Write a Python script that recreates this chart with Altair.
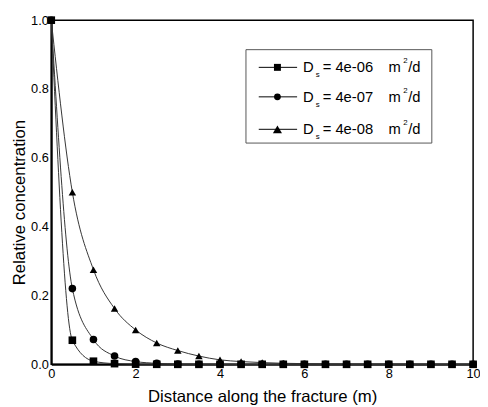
import altair as alt
import pandas as pd

# ---- data ----
x_vals = [0, 0.5, 1, 1.5, 2, 2.5, 3, 3.5, 4, 4.5, 5, 5.5, 6, 6.5, 7, 7.5, 8, 8.5, 9, 9.5, 10]
sq_vals = [1.0, 0.07, 0.009, 0.002, 0.0005, 0.0001, 0, 0, 0, 0, 0, 0, 0, 0, 0, 0, 0, 0, 0, 0, 0]
ci_vals = [1.0, 0.22, 0.072, 0.024, 0.008, 0.003, 0.001, 0.0004, 0.0001, 0, 0, 0, 0, 0, 0, 0, 0, 0, 0, 0, 0]
tr_vals = [1.0, 0.50, 0.275, 0.162, 0.10, 0.062, 0.04, 0.024, 0.013, 0.008, 0.005, 0.003,
           0.002, 0.001, 0.0006, 0.0004, 0.0002, 0.0001, 0, 0, 0]
series_names = ["4e-06", "4e-07", "4e-08"]
series_shapes = ["square", "circle", "triangle-up"]
series_sizes = [60, 58, 95]
x_ticks = [0, 2, 4, 6, 8, 10]
y_ticks = [0.0, 0.2, 0.4, 0.6, 0.8, 1.0]

rows = []
for name, vals in zip(series_names, [sq_vals, ci_vals, tr_vals]):
    for x, y in zip(x_vals, vals):
        rows.append({"x": x, "y": y, "series": name})
df = pd.DataFrame(rows)

FONT = "Liberation Sans"

xenc = alt.X("x:Q", scale=alt.Scale(domain=[0, 10], nice=False),
             axis=alt.Axis(values=x_ticks, title="Distance along the fracture (m)", grid=False,
                           ticks=False, labelFlush=False, format="d", titlePadding=9))
yenc = alt.Y("y:Q", scale=alt.Scale(domain=[0, 1], nice=False),
             axis=alt.Axis(values=y_ticks, title="Relative concentration", grid=False,
                           ticks=False, format=".1f", titleX=-27, titleY=185,
                           titleBaseline="alphabetic", titleAlign="center", titleAngle=270))

base = alt.Chart(df)
lines = base.mark_line(color="#333333", strokeWidth=1, interpolate="monotone", clip=False).encode(
    x=xenc, y=yenc, detail="series:N")
points = base.mark_point(filled=True, color="black", opacity=1).encode(
    x="x:Q", y="y:Q",
    shape=alt.Shape("series:N", scale=alt.Scale(domain=series_names, range=series_shapes), legend=None),
    size=alt.Size("series:N", scale=alt.Scale(domain=series_names, range=series_sizes), legend=None))

layers = [lines, points]

# ---- custom legend (with subscript / superscript) ----
one = pd.DataFrame({"a": [0]})
legend_box = alt.Chart(one).mark_rect(fill="white", stroke="#555555", strokeWidth=1).encode(
    x=alt.value(198), x2=alt.value(387), y=alt.value(30), y2=alt.value(125))
layers.append(legend_box)

row_y = [48, 78, 111]
for name, shape, sz, ry in zip(series_names, series_shapes, series_sizes, row_y):
    layers.append(alt.Chart(one).mark_rule(color="black", strokeWidth=1).encode(
        x=alt.value(211), x2=alt.value(250), y=alt.value(ry)))
    layers.append(alt.Chart(one).mark_point(filled=True, color="black", opacity=1, size=sz - 10,
                                            shape=shape).encode(
        x=alt.value(230), y=alt.value(ry)))
    pieces = [("D", 256, ry, 15), ("s", 269, ry + 8, 8), ("= " + name, 276, ry, 15),
              ("m", 343, ry, 15), ("2", 358, ry - 6, 8), ("/d", 363, ry, 15)]
    for txt, px, py, fs in pieces:
        layers.append(alt.Chart(one).mark_text(text=txt, align="left", baseline="middle",
                                               font=FONT, fontSize=fs, color="black").encode(
            x=alt.value(px), y=alt.value(py)))

chart = alt.layer(*layers).properties(
    width=429, height=350,
    autosize=alt.AutoSizeParams(type="none"),
    padding={"left": 44, "top": 9, "right": 7, "bottom": 38},
).configure_view(stroke="black", strokeWidth=1.5).configure_axis(
    domainColor="black", domainWidth=2, labelFont=FONT, titleFont=FONT,
    labelFontSize=13, titleFontSize=17, titleFontWeight="normal", labelColor="black",
    titleColor="black", labelPadding=3,
)

chart.save("out.html", embed_options={"renderer": "svg", "actions": False})
